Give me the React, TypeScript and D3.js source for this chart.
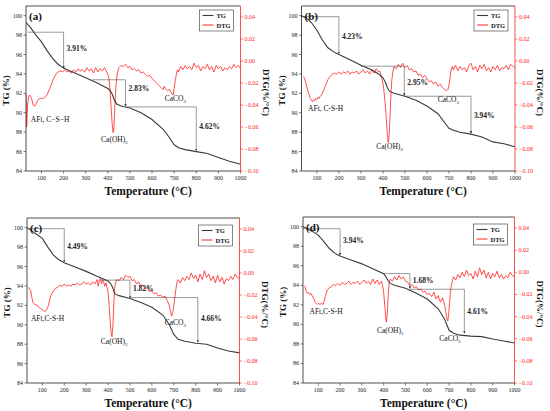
import React from "react";
import * as d3 from "d3";

type Pt = [number, number];

const tempTicks = [100, 200, 300, 400, 500, 600, 700, 800, 900, 1000];
const tgTicks = [84, 86, 88, 90, 92, 94, 96, 98, 100];
const dtgTicks = [-0.1, -0.08, -0.06, -0.04, -0.02, 0, 0.02, 0.04];

// TG curves, [temperature, mass %]
const tgA: Pt[] = [
  [30, 99.3], [50, 98.8], [75, 98.0], [100, 97.3], [125, 96.4], [150, 95.6], [175, 95.0],
  [200, 94.6], [250, 94.1], [300, 93.6], [350, 93.1], [400, 92.5], [410, 92.3], [420, 91.9],
  [430, 91.3], [440, 90.9], [460, 90.7], [500, 90.5], [550, 90.0], [600, 89.3], [650, 88.3],
  [680, 87.4], [700, 86.7], [720, 86.4], [750, 86.2], [800, 86.0], [850, 85.8], [900, 85.4],
  [950, 85.0], [1000, 84.7],
];
const tgB: Pt[] = [
  [30, 100.0], [50, 99.8], [75, 99.3], [100, 98.5], [125, 97.5], [150, 96.7], [175, 96.3],
  [200, 96.0], [250, 95.45], [300, 94.9], [350, 94.4], [380, 94.0], [400, 93.6], [410, 93.2],
  [420, 92.6], [430, 92.2], [450, 92.0], [500, 91.7], [550, 91.3], [600, 90.7], [650, 89.9],
  [680, 89.0], [700, 88.4], [720, 88.2], [750, 88.0], [800, 87.8], [850, 87.5], [900, 87.0],
  [950, 86.8], [1000, 86.5],
];
const tgC: Pt[] = [
  [30, 100.0], [50, 99.7], [75, 99.3], [100, 98.9], [125, 98.0], [150, 97.2], [175, 96.7],
  [200, 96.4], [250, 95.95], [300, 95.5], [350, 95.0], [400, 94.5], [410, 94.3], [420, 93.9],
  [430, 93.2], [450, 93.0], [500, 92.7], [550, 92.3], [600, 91.8], [650, 91.0], [680, 90.0],
  [700, 89.0], [720, 88.5], [750, 88.3], [800, 88.1], [850, 88.0], [900, 87.6], [950, 87.3],
  [1000, 87.1],
];
const tgD: Pt[] = [
  [30, 100.0], [50, 99.8], [75, 99.5], [100, 99.15], [125, 98.5], [150, 97.8], [175, 97.3],
  [200, 97.0], [250, 96.6], [300, 96.2], [350, 95.7], [400, 95.2], [410, 94.9], [420, 94.5],
  [430, 94.2], [450, 94.0], [500, 93.7], [550, 93.2], [600, 92.6], [650, 91.6], [680, 90.5],
  [700, 89.4], [720, 89.1], [750, 88.9], [800, 88.8], [850, 88.75], [900, 88.5], [950, 88.3],
  [1000, 88.1],
];

// DTG curves, [temperature, %/°C]
const dtgA: Pt[] = [
  [30, -0.03], [33, -0.06], [37, -0.04], [42, -0.032], [48, -0.031], [55, -0.034], [62, -0.04],
  [70, -0.041], [78, -0.038], [85, -0.035], [95, -0.034], [105, -0.034], [115, -0.033],
  [125, -0.031], [135, -0.026], [145, -0.021], [155, -0.016], [165, -0.012], [175, -0.01],
  [185, -0.009], [195, -0.01], [205, -0.008], [215, -0.01], [225, -0.009], [235, -0.011],
  [245, -0.008], [255, -0.01], [265, -0.007], [275, -0.009], [285, -0.008], [295, -0.01],
  [305, -0.006], [315, -0.009], [325, -0.007], [335, -0.011], [345, -0.006], [355, -0.01],
  [365, -0.007], [375, -0.009], [385, -0.006], [395, -0.01], [400, -0.012], [405, -0.016],
  [410, -0.026], [415, -0.042], [420, -0.058], [424, -0.065], [428, -0.06], [432, -0.04],
  [437, -0.022], [442, -0.012], [450, -0.006], [460, -0.004], [470, -0.005], [480, -0.003],
  [490, -0.006], [500, -0.005], [510, -0.008], [520, -0.007], [530, -0.009], [540, -0.008],
  [550, -0.011], [560, -0.01], [570, -0.012], [580, -0.014], [590, -0.013], [600, -0.016],
  [610, -0.018], [620, -0.02], [630, -0.022], [640, -0.024], [650, -0.026], [655, -0.023],
  [660, -0.025], [670, -0.027], [680, -0.026], [690, -0.03], [695, -0.031], [700, -0.025],
  [705, -0.018], [710, -0.012], [715, -0.008], [720, -0.01], [730, -0.005], [740, -0.008],
  [750, -0.004], [760, -0.007], [770, -0.005], [780, -0.008], [790, -0.002], [800, -0.006],
  [810, -0.004], [820, -0.009], [830, -0.005], [840, -0.007], [850, -0.003], [860, -0.008],
  [870, -0.005], [880, -0.01], [890, -0.004], [900, -0.007], [910, -0.005], [920, -0.009],
  [930, -0.006], [940, -0.008], [950, -0.005], [960, -0.007], [970, -0.003], [980, -0.006],
  [990, -0.004], [1000, -0.007],
];
const dtgB: Pt[] = [
  [40, -0.014], [45, -0.017], [50, -0.02], [55, -0.024], [60, -0.028], [65, -0.031],
  [70, -0.034], [75, -0.036], [80, -0.037], [85, -0.035], [90, -0.036], [95, -0.034],
  [100, -0.035], [105, -0.033], [110, -0.034], [115, -0.032], [120, -0.031], [130, -0.027],
  [140, -0.022], [150, -0.017], [160, -0.014], [170, -0.012], [180, -0.011], [190, -0.012],
  [200, -0.01], [210, -0.012], [220, -0.01], [230, -0.011], [240, -0.009], [250, -0.012],
  [260, -0.01], [270, -0.011], [280, -0.009], [290, -0.012], [300, -0.01], [310, -0.008],
  [320, -0.011], [330, -0.009], [340, -0.012], [350, -0.008], [360, -0.011], [370, -0.007],
  [380, -0.01], [385, -0.009], [390, -0.012], [395, -0.016], [400, -0.02], [405, -0.028],
  [410, -0.038], [415, -0.052], [420, -0.066], [424, -0.074], [428, -0.068], [432, -0.052],
  [436, -0.032], [440, -0.018], [445, -0.01], [450, -0.005], [460, -0.007], [470, -0.003],
  [480, -0.006], [490, -0.002], [500, -0.006], [510, -0.004], [520, -0.008], [530, -0.007],
  [540, -0.01], [550, -0.009], [560, -0.013], [570, -0.012], [580, -0.015], [590, -0.013],
  [600, -0.016], [610, -0.019], [620, -0.018], [630, -0.021], [640, -0.019], [650, -0.023],
  [660, -0.021], [670, -0.024], [680, -0.026], [690, -0.027], [695, -0.026], [700, -0.022],
  [705, -0.015], [710, -0.008], [715, -0.005], [720, -0.008], [730, -0.004], [740, -0.009],
  [750, -0.005], [760, -0.008], [770, -0.006], [780, -0.01], [790, -0.004], [800, -0.002],
  [810, -0.008], [820, -0.005], [830, -0.01], [840, -0.004], [850, -0.007], [860, -0.003],
  [870, -0.009], [880, -0.006], [890, -0.01], [900, -0.005], [910, -0.008], [920, -0.004],
  [930, -0.009], [940, -0.006], [950, -0.007], [960, -0.004], [970, -0.008], [980, -0.003],
  [990, -0.005], [1000, -0.006],
];
const dtgC: Pt[] = [
  [38, -0.013], [42, -0.015], [47, -0.016], [52, -0.022], [57, -0.027], [62, -0.028],
  [68, -0.029], [75, -0.029], [82, -0.031], [90, -0.032], [97, -0.033], [105, -0.034],
  [112, -0.035], [118, -0.034], [125, -0.031], [132, -0.026], [138, -0.021], [145, -0.018],
  [152, -0.016], [160, -0.014], [170, -0.013], [180, -0.011], [190, -0.012], [200, -0.01],
  [210, -0.012], [220, -0.011], [230, -0.012], [240, -0.01], [250, -0.011], [260, -0.009],
  [270, -0.011], [280, -0.01], [290, -0.008], [300, -0.01], [310, -0.009], [320, -0.011],
  [330, -0.008], [340, -0.01], [350, -0.006], [355, -0.012], [360, -0.007], [365, -0.005],
  [370, -0.01], [375, -0.006], [380, -0.008], [385, -0.012], [390, -0.009], [395, -0.013],
  [400, -0.017], [405, -0.03], [410, -0.045], [415, -0.056], [418, -0.058], [422, -0.048],
  [426, -0.03], [430, -0.014], [435, -0.008], [440, -0.006], [450, -0.007], [460, -0.004],
  [470, -0.006], [480, -0.002], [490, -0.004], [500, -0.003], [510, -0.007], [520, -0.006],
  [530, -0.01], [540, -0.008], [550, -0.012], [560, -0.011], [570, -0.015], [580, -0.013],
  [590, -0.017], [600, -0.016], [610, -0.019], [620, -0.018], [630, -0.021], [640, -0.02],
  [650, -0.022], [660, -0.021], [670, -0.025], [680, -0.03], [685, -0.035], [690, -0.039],
  [695, -0.036], [700, -0.03], [705, -0.022], [710, -0.014], [715, -0.008], [720, -0.006],
  [730, -0.009], [740, -0.004], [750, -0.007], [760, -0.003], [770, -0.006], [780, 0.0],
  [790, -0.005], [800, -0.002], [810, -0.008], [820, -0.001], [830, -0.006], [840, 0.002],
  [850, -0.004], [860, -0.001], [870, -0.007], [880, -0.003], [890, -0.009], [900, -0.002],
  [910, -0.008], [920, -0.004], [930, -0.01], [940, -0.005], [950, -0.007], [960, -0.003],
  [970, -0.006], [980, -0.001], [990, -0.004], [1000, -0.005],
];
const dtgD: Pt[] = [
  [36, -0.012], [40, -0.013], [45, -0.017], [50, -0.019], [55, -0.018], [60, -0.02],
  [65, -0.019], [72, -0.021], [80, -0.024], [85, -0.027], [90, -0.028], [95, -0.029],
  [100, -0.028], [108, -0.029], [115, -0.028], [122, -0.029], [128, -0.025], [135, -0.02],
  [142, -0.016], [150, -0.014], [160, -0.013], [170, -0.011], [180, -0.012], [190, -0.01],
  [200, -0.012], [210, -0.009], [220, -0.011], [230, -0.01], [240, -0.008], [250, -0.011],
  [260, -0.009], [270, -0.01], [280, -0.008], [290, -0.011], [300, -0.009], [310, -0.007],
  [320, -0.01], [330, -0.008], [340, -0.011], [350, -0.006], [360, -0.01], [370, -0.007],
  [380, -0.011], [390, -0.008], [395, -0.012], [400, -0.018], [405, -0.03], [410, -0.042],
  [413, -0.045], [417, -0.036], [421, -0.02], [425, -0.01], [430, -0.006], [440, -0.008],
  [450, -0.004], [460, -0.007], [470, -0.003], [480, -0.006], [490, -0.004], [500, -0.008],
  [510, -0.009], [520, -0.012], [530, -0.011], [540, -0.014], [550, -0.013], [560, -0.016],
  [570, -0.015], [580, -0.018], [590, -0.017], [600, -0.02], [610, -0.019], [620, -0.022],
  [630, -0.018], [640, -0.024], [650, -0.021], [660, -0.027], [670, -0.023], [680, -0.03],
  [685, -0.036], [690, -0.042], [694, -0.044], [698, -0.038], [702, -0.028], [706, -0.018],
  [710, -0.012], [715, -0.008], [720, -0.004], [730, -0.007], [740, -0.002], [750, -0.005],
  [760, 0.0], [770, -0.004], [780, 0.002], [790, -0.003], [800, -0.001], [810, -0.006],
  [820, 0.001], [830, -0.004], [840, 0.004], [850, -0.002], [860, 0.002], [870, -0.005],
  [880, 0.0], [890, -0.006], [900, -0.001], [910, -0.004], [920, 0.001], [930, -0.005],
  [940, -0.002], [950, -0.006], [960, -0.003], [970, -0.005], [980, 0.0], [990, -0.003],
  [1000, -0.004],
];

// mass-loss steps: horizontal at hi from..to, arrow down to lo
type Step = { from: number; to: number; hi: number; lo: number; label: string };
const stepsA: Step[] = [
  { from: 38, to: 200, hi: 98.3, lo: 94.5, label: "3.91%" },
  { from: 330, to: 480, hi: 93.4, lo: 90.6, label: "2.83%" },
  { from: 480, to: 800, hi: 90.6, lo: 86.0, label: "4.62%" },
];
const stepsB: Step[] = [
  { from: 30, to: 200, hi: 99.9, lo: 96.0, label: "4.23%" },
  { from: 300, to: 497, hi: 94.8, lo: 91.7, label: "2.95%" },
  { from: 497, to: 800, hi: 91.7, lo: 87.8, label: "3.94%" },
];
const stepsC: Step[] = [
  { from: 30, to: 200, hi: 99.9, lo: 96.4, label: "4.49%" },
  { from: 365, to: 500, hi: 94.6, lo: 92.7, label: "1.82%" },
  { from: 500, to: 810, hi: 92.8, lo: 88.1, label: "4.66%" },
];
const stepsD: Step[] = [
  { from: 30, to: 200, hi: 99.8, lo: 97.0, label: "3.94%" },
  { from: 400, to: 520, hi: 95.2, lo: 93.6, label: "1.68%" },
  { from: 520, to: 770, hi: 93.6, lo: 89.0, label: "4.61%" },
];
const stepLabelYA = [96.4, 92.2, 88.3];
const stepLabelYB = [97.6, 92.9, 89.5];
const stepLabelYC = [97.85, 93.5, 90.4];
const stepLabelYD = [98.3, 94.2, 91.1];

type Note = { text: string; sub?: string; t: number; v: number; anchor: "start" | "middle" };
const notesA: Note[] = [
  { text: "AFt, C\u2212S\u2212H", t: 52, v: 89.0, anchor: "start" },
  { text: "Ca(OH)", sub: "2", t: 430, v: 87.0, anchor: "middle" },
  { text: "CaCO", sub: "3", t: 705, v: 91.2, anchor: "middle" },
];
const notesB: Note[] = [
  { text: "AFt, C-S-H", t: 60, v: 90.2, anchor: "start" },
  { text: "Ca(OH)", sub: "2", t: 430, v: 86.25, anchor: "middle" },
  { text: "CaCO", sub: "3", t: 697, v: 91.1, anchor: "middle" },
];
const notesC: Note[] = [
  { text: "AFt,C-S-H", t: 48, v: 90.4, anchor: "start" },
  { text: "Ca(OH)", sub: "2", t: 428, v: 88.05, anchor: "middle" },
  { text: "CaCO", sub: "3", t: 707, v: 89.95, anchor: "middle" },
];
const notesD: Note[] = [
  { text: "AFt,C-S-H", t: 60, v: 91.1, anchor: "start" },
  { text: "Ca(OH)", sub: "2", t: 430, v: 89.15, anchor: "middle" },
  { text: "CaCO", sub: "3", t: 704, v: 88.3, anchor: "middle" },
];

const panels = [
  { tag: "(a)", tg: tgA, dtg: dtgA, steps: stepsA, stepY: stepLabelYA, notes: notesA, box: [26, 240.5, 6, 171], legendDy: 4 },
  { tag: "(b)", tg: tgB, dtg: dtgB, steps: stepsB, stepY: stepLabelYB, notes: notesB, box: [301.5, 515, 6, 171], legendDy: 4 },
  { tag: "(c)", tg: tgC, dtg: dtgC, steps: stepsC, stepY: stepLabelYC, notes: notesC, box: [27, 239.5, 218, 383], legendDy: 7 },
  { tag: "(d)", tg: tgD, dtg: dtgD, steps: stepsD, stepY: stepLabelYD, notes: notesD, box: [303, 514.5, 217, 383], legendDy: 7 },
];

const RED = "#ff2222";
const FONT = "'Liberation Serif', 'DejaVu Serif', serif";
const fmtR = d3.format(".2f");

function Panel({ p, idx }: { p: (typeof panels)[number]; idx: number }) {
  const [x0, x1, y0, y1] = p.box;
  const x = d3.scaleLinear().domain([30, 1000]).range([x0, x1]);
  const y = d3.scaleLinear().domain([84, 101]).range([y1, y0]);
  const y2 = d3.scaleLinear().domain([-0.1, 0.05]).range([y1, y0]);
  const tgLine = d3.line<Pt>().x((d) => x(d[0])).y((d) => y(d[1]));
  const dtgLine = d3.line<Pt>().x((d) => x(d[0])).y((d) => y2(d[1]));
  const lx = x1 - 41;
  const ly = y0 + p.legendDy;
  const clip = `clip-${idx}`;
  return (
    <g fontFamily={FONT}>
      <clipPath id={clip}>
        <rect x={x0} y={y0} width={x1 - x0} height={y1 - y0} />
      </clipPath>
      <g clipPath={`url(#${clip})`}>
        <path d={dtgLine(p.dtg)!} fill="none" stroke={RED} strokeWidth={0.8} />
        <path d={tgLine(p.tg)!} fill="none" stroke="#3a3a3a" strokeWidth={1.1} />
      </g>
      {p.steps.map((s, i) => (
        <path
          key={i}
          d={`M${x(s.from)},${y(s.hi)}H${x(s.to)}V${y(s.lo) - 1}`}
          stroke="#555"
          strokeWidth={0.6}
          fill="none"
          markerEnd="url(#arrow)"
        />
      ))}
      {p.steps.map((s, i) => (
        <text key={i} x={x(s.to) + 3} y={y(p.stepY[i])} fontSize={7.5} fontWeight="bold" fill="#222">
          {s.label}
        </text>
      ))}
      {p.notes.map((n, i) => (
        <text key={i} x={x(n.t)} y={y(n.v)} fontSize={7.5} textAnchor={n.anchor} fill="#111">
          {n.text}
          {n.sub && (
            <tspan fontSize={5} dy={2}>
              {n.sub}
            </tspan>
          )}
        </text>
      ))}
      {/* frame */}
      <line x1={x0} x2={x1} y1={y0} y2={y0} stroke="#222" strokeWidth={0.8} />
      <line x1={x0} x2={x1} y1={y1} y2={y1} stroke="#222" strokeWidth={0.8} />
      <line x1={x0} x2={x0} y1={y0} y2={y1} stroke="#222" strokeWidth={0.8} />
      <line x1={x1} x2={x1} y1={y0} y2={y1} stroke={RED} strokeWidth={0.8} />
      {tempTicks.map((t) => (
        <g key={t}>
          <line x1={x(t)} x2={x(t)} y1={y1} y2={y1 + 2.5} stroke="#222" strokeWidth={0.6} />
          <text x={x(t)} y={y1 + 9} fontSize={6} textAnchor="middle" fill="#222">
            {t}
          </text>
        </g>
      ))}
      {tgTicks.map((t) => (
        <g key={t}>
          <line x1={x0 - 2.5} x2={x0} y1={y(t)} y2={y(t)} stroke="#222" strokeWidth={0.6} />
          <text x={x0 - 4} y={y(t) + 2} fontSize={6} textAnchor="end" fill="#222">
            {t}
          </text>
        </g>
      ))}
      {dtgTicks.map((t) => (
        <g key={t}>
          <line x1={x1} x2={x1 + 2.5} y1={y2(t)} y2={y2(t)} stroke={RED} strokeWidth={0.6} />
          <text x={x1 + 4} y={y2(t) + 2} fontSize={6} fill={RED}>
            {fmtR(t)}
          </text>
        </g>
      ))}
      <text x={x0 + 3} y={y0 + 14} fontSize={11} fontWeight="bold" fill="#111">
        {p.tag}
      </text>
      {/* legend */}
      <rect x={lx} y={ly} width={34} height={21} fill="white" stroke="#333" strokeWidth={0.6} />
      <line x1={lx + 3} x2={lx + 14} y1={ly + 5.5} y2={ly + 5.5} stroke="#3a3a3a" strokeWidth={1.1} />
      <text x={lx + 17} y={ly + 8} fontSize={6.5} fontWeight="bold" fill="#111">
        TG
      </text>
      <line x1={lx + 3} x2={lx + 14} y1={ly + 15} y2={ly + 15} stroke={RED} strokeWidth={1} />
      <text x={lx + 17} y={ly + 17.5} fontSize={6.5} fontWeight="bold" fill="#111">
        DTG
      </text>
      {/* axis titles */}
      <text x={(x0 + x1) / 2 + 15} y={y1 + 24} fontSize={11.5} fontWeight="bold" textAnchor="middle" fill="#111">
        Temperature (°C)
      </text>
      <text
        transform={`translate(${x0 - 17},${(y0 + y1) / 2 + 2}) rotate(-90)`}
        fontSize={9}
        fontWeight="bold"
        textAnchor="middle"
        fill="#111"
      >
        TG (%)
      </text>
      <text
        transform={`translate(${x1 + 22},${(y0 + y1) / 2 + 4}) rotate(90)`}
        fontSize={9}
        fontWeight="bold"
        textAnchor="middle"
        fill="#111"
      >
        DTG(%/°C)
      </text>
    </g>
  );
}

export default function App() {
  return (
    <div style={{ position: "fixed", left: 0, top: 0 }}>
      <svg width={550} height={411} style={{ display: "block", background: "white" }}>
        <defs>
          <marker id="arrow" viewBox="0 0 6 6" refX={5} refY={3} markerWidth={4} markerHeight={4} orient="auto">
            <path d="M0,0L6,3L0,6Z" fill="#333" />
          </marker>
        </defs>
        {panels.map((p, i) => (
          <Panel key={i} p={p} idx={i} />
        ))}
      </svg>
    </div>
  );
}
